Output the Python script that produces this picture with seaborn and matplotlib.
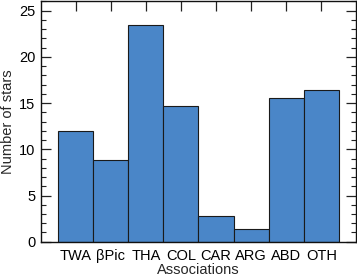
import matplotlib
matplotlib.use("Agg")
import matplotlib.pyplot as plt
import seaborn as sns
import pandas as pd

categories = ["TWA", "βPic", "THA", "COL", "CAR", "ARG", "ABD", "OTH"]
counts = [12.0, 8.8, 23.5, 14.7, 2.8, 1.4, 15.5, 16.4]

sns.set_theme(style="ticks")
plt.rcParams['font.family'] = ['Liberation Sans', 'DejaVu Sans']

df = pd.DataFrame({"assoc": categories, "n": counts})

fig = plt.figure(figsize=(3.57, 2.76), dpi=100)
ax = fig.add_axes([41/357, 1-241.7/276, (356-41)/357, (241.7-1)/276])

sns.barplot(data=df, x="assoc", y="n", order=categories, color="#4a86c8",
            saturation=1, width=1.0, edgecolor="#1a1a1a", linewidth=0.8, ax=ax)

ax.set_xlim(-0.99, 7.99)
ax.set_ylim(0, 26.05)
ax.set_yticks([0, 5, 10, 15, 20, 25])
ax.set_yticks(range(0, 27), minor=True)
ax.set_xlabel("Associations", fontsize=10.5, labelpad=0)
ax.set_ylabel("Number of stars", fontsize=10.5, labelpad=3)
ax.tick_params(axis='both', which='major', direction='in', length=7.5, width=0.9,
               labelsize=10.5, colors='#222222', labelcolor='black',
               top=True, right=True)
ax.tick_params(axis='y', which='minor', direction='in', length=3.8, width=0.8,
               left=True, right=True, colors='#222222')
ax.tick_params(axis='x', which='minor', bottom=False, top=False)
ax.tick_params(axis='x', pad=5)
ax.tick_params(axis='y', pad=4)
for s in ax.spines.values():
    s.set_linewidth(1.0)
    s.set_color('#111111')

fig.savefig("out.png", dpi=100)
